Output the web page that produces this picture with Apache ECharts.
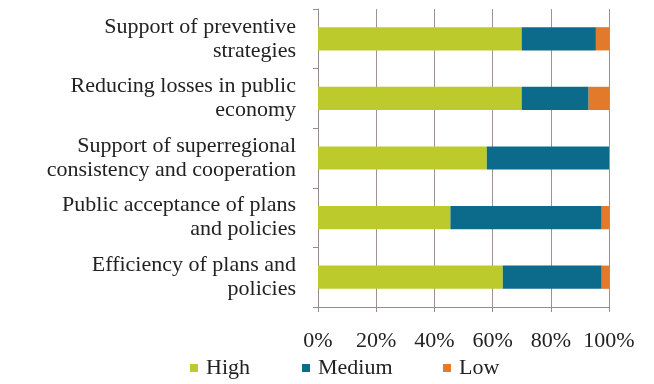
<!DOCTYPE html>
<html><head><meta charset="utf-8">
<script src="https://cdn.jsdelivr.net/npm/echarts@6/dist/echarts.min.js"></script>
<style>html,body{margin:0;padding:0;background:#fff}#c{width:654px;height:384px}</style>
</head><body><div id="c"></div>
<script>
const categories = [
  "Support of preventive\nstrategies",
  "Reducing losses in public\neconomy",
  "Support of superregional\nconsistency and cooperation",
  "Public acceptance of plans\nand policies",
  "Efficiency of plans and\npolicies"
];
const high = [70, 70, 58, 45.5, 63.5];
const medium = [25.5, 23, 42, 52, 34];
const low = [4.5, 7, 0, 2.5, 2.5];
const xTicks = [0, 20, 40, 60, 80, 100];

const font = "'Liberation Serif', 'DejaVu Serif', serif";
const chart = echarts.init(document.getElementById('c'));
const mk = (name, data, color) => ({
  name, type: 'bar', stack: 'a', data, barCategoryGap: '61%',
  itemStyle: { color }, emphasis: { disabled: true }
});
const lg = (name, left) => ({
  left, top: 357, itemWidth: 8, itemHeight: 8, icon: 'rect', padding: 0,
  textStyle: { fontFamily: font, fontSize: 22, color: '#222', padding: [0, 0, 0, 3] },
  data: [name]
});
chart.setOption({
  animation: false,
  grid: { left: 318, top: 9, right: 45, bottom: 77 },
  legend: [lg('High', 190), lg('Medium', 302), lg('Low', 443)],
  xAxis: {
    type: 'value', min: xTicks[0], max: xTicks[xTicks.length-1], interval: 20,
    axisLine: { show: true, lineStyle: { color: '#9a8a88' } },
    axisTick: { show: true, length: 5, lineStyle: { color: '#9a8a88' } },
    splitLine: { show: true, lineStyle: { color: '#a0918f', width: 1 } },
    axisLabel: { formatter: v => v + '%', fontFamily: font, fontSize: 22, color: '#222', margin: 23 }
  },
  yAxis: {
    type: 'category', data: categories, inverse: true,
    axisLine: { show: true, lineStyle: { color: '#9a8a88' } },
    axisTick: { show: true, length: 5, lineStyle: { color: '#9a8a88' } },
    axisLabel: { fontFamily: font, fontSize: 22, color: '#222', margin: 22, lineHeight: 24, align: 'right' }
  },
  series: [
    mk('High', high, '#bccb2b'),
    mk('Medium', medium, '#0c6a8b'),
    mk('Low', low, '#e2792b')
  ]
});
</script></body></html>
